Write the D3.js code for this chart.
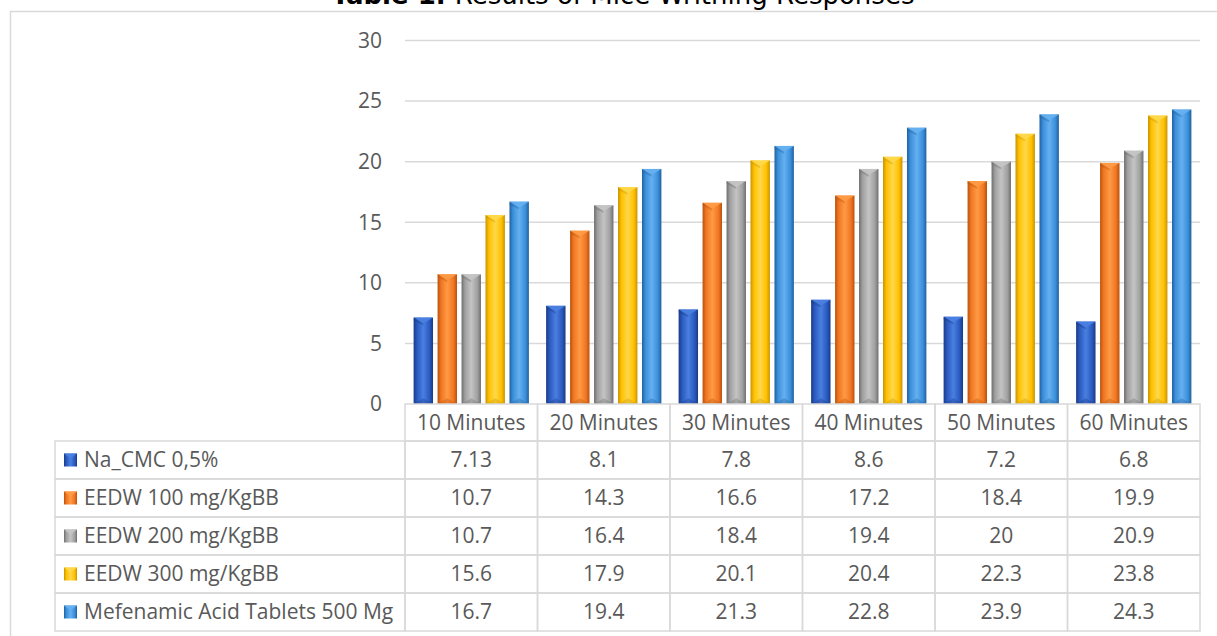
<!DOCTYPE html>
<html>
<head>
<meta charset="utf-8">
<script src="https://cdn.jsdelivr.net/npm/d3@7"></script>
<style>
  body { margin: 0; background: #fff; }
  svg { display: block; font-family: "Open Sans", sans-serif; }
</style>
</head>
<body>
<svg id="chart" width="1217" height="636"></svg>
<script>
const categories = ["10 Minutes", "20 Minutes", "30 Minutes", "40 Minutes", "50 Minutes", "60 Minutes"];
const seriesNames = ["Na_CMC 0,5%", "EEDW 100 mg/KgBB", "EEDW 200 mg/KgBB", "EEDW 300 mg/KgBB", "Mefenamic Acid Tablets 500 Mg"];
const naCmc = [7.13, 8.1, 7.8, 8.6, 7.2, 6.8];
const eedw100 = [10.7, 14.3, 16.6, 17.2, 18.4, 19.9];
const eedw200 = [10.7, 16.4, 18.4, 19.4, 20, 20.9];
const eedw300 = [15.6, 17.9, 20.1, 20.4, 22.3, 23.8];
const mefenamic = [16.7, 19.4, 21.3, 22.8, 23.9, 24.3];
const yTicks = [0, 5, 10, 15, 20, 25, 30];

const seriesValues = [naCmc, eedw100, eedw200, eedw300, mefenamic];
// base, light, dark
const colors = [
  ["#2a5ac0", "#4a7fe0", "#1a3a85"],
  ["#f07622", "#ff9a45", "#b8520c"],
  ["#a0a0a0", "#c4c4c4", "#6e6e6e"],
  ["#ffc000", "#ffd84a", "#c99400"],
  ["#3b8fdb", "#65b0f0", "#22609e"]
];

const svg = d3.select("#chart");
const plotLeft = 405, plotRight = 1200, plotTop = 40.5, plotBottom = 404;
const rowH = 38, headerH = 37, legendLeft = 55;
const grid = "#d9d9d9", textCol = "#595959";
const fs = 21;

// outer chart border
svg.append("rect").attr("x", 10.5).attr("y", 11.5).attr("width", 1220).attr("height", 640)
  .attr("fill", "none").attr("stroke", grid).attr("stroke-width", 1.5);

// title (clipped at top like the reference)
const title = svg.append("text").attr("x", 623).attr("y", 3.5).attr("text-anchor", "middle")
  .attr("font-family", "DejaVu Sans").attr("font-size", 26).attr("fill", "#000");
title.append("tspan").attr("font-weight", "bold").text("Table 1. ");
title.append("tspan").text("Results of Mice Writhing Responses");

const y = d3.scaleLinear().domain([0, 30]).range([plotBottom, plotTop]);
const x0 = d3.scaleBand().domain(categories).range([plotLeft, plotRight]).paddingInner(0.13).paddingOuter(0.065);
const x1 = d3.scaleBand().domain(seriesNames).range([0, x0.bandwidth()]).paddingInner(0.19);

// gridlines + y labels
svg.append("g").selectAll("line").data(yTicks.filter(d => d > 0)).join("line")
  .attr("x1", plotLeft).attr("x2", plotRight).attr("y1", d => y(d)).attr("y2", d => y(d))
  .attr("stroke", grid).attr("stroke-width", 1.5);
svg.append("g").selectAll("text").data(yTicks).join("text")
  .attr("x", 382).attr("y", d => y(d)).attr("dy", "0.35em").attr("text-anchor", "end")
  .attr("font-size", fs).attr("fill", textCol).text(d => d);

// gradients
const defs = svg.append("defs");
colors.forEach((c, i) => {
  const g = defs.append("linearGradient").attr("id", "g" + i).attr("x1", 0).attr("x2", 1).attr("y1", 0).attr("y2", 0);
  g.append("stop").attr("offset", "0%").attr("stop-color", c[2]);
  g.append("stop").attr("offset", "18%").attr("stop-color", c[0]);
  g.append("stop").attr("offset", "50%").attr("stop-color", c[1]);
  g.append("stop").attr("offset", "82%").attr("stop-color", c[0]);
  g.append("stop").attr("offset", "100%").attr("stop-color", c[2]);
});

// bars
const groups = svg.append("g").selectAll("g").data(categories).join("g")
  .attr("transform", d => `translate(${x0(d)},0)`);
groups.each(function(cat, ci) {
  const g = d3.select(this);
  seriesNames.forEach((s, si) => {
    const v = seriesValues[si][ci];
    const bx = x1(s), bw = x1.bandwidth(), by = y(v), bh = y(0) - y(v);
    const bev = bw * 0.3;
    g.append("rect").attr("x", bx).attr("y", by).attr("width", bw).attr("height", bh)
      .attr("fill", `url(#g${si})`);
    // top bevel (chevron)
    g.append("path")
      .attr("d", `M${bx},${by} L${bx + bw},${by} L${bx + bw / 2},${by + bev} Z`)
      .attr("fill", colors[si][1]).attr("opacity", 0.95);
    g.append("path")
      .attr("d", `M${bx},${by} L${bx + bw / 2},${by + bev} L${bx + bw / 2},${by + bev + 2} L${bx},${by + 3} Z`)
      .attr("fill", colors[si][2]).attr("opacity", 0.35);
    // bottom bevel
    g.append("path")
      .attr("d", `M${bx},${plotBottom} L${bx + bw},${plotBottom} L${bx + bw / 2},${plotBottom - bev} Z`)
      .attr("fill", colors[si][2]).attr("opacity", 0.35);
  });
});

// data table
const tbl = svg.append("g");
const colW = x0.step();
const rowsTop = plotBottom + headerH;
const lineAttr = sel => sel.attr("stroke", grid).attr("stroke-width", 1.5).attr("fill", "none");

// header row
categories.forEach((c, i) => {
  const cx = plotLeft + i * colW;
  tbl.append("rect").attr("x", cx).attr("y", plotBottom).attr("width", colW).attr("height", headerH).call(lineAttr);
  tbl.append("text").attr("x", cx + colW / 2).attr("y", plotBottom + headerH / 2).attr("dy", "0.35em")
    .attr("text-anchor", "middle").attr("font-size", fs).attr("fill", textCol).text(c);
});

seriesNames.forEach((s, si) => {
  const ry = rowsTop + si * rowH;
  tbl.append("rect").attr("x", legendLeft).attr("y", ry).attr("width", plotLeft - legendLeft).attr("height", rowH).call(lineAttr);
  tbl.append("rect").attr("x", 64).attr("y", ry + rowH / 2 - 6.5).attr("width", 13).attr("height", 13)
    .attr("fill", `url(#g${si})`);
  tbl.append("path").attr("d", `M64,${ry + rowH / 2 - 6.5} L77,${ry + rowH / 2 - 6.5} L70.5,${ry + rowH / 2 - 1.5} Z`)
    .attr("fill", colors[si][1]);
  tbl.append("text").attr("x", 84).attr("y", ry + rowH / 2).attr("dy", "0.35em")
    .attr("font-size", fs).attr("fill", textCol).text(s);
  categories.forEach((c, ci) => {
    const cx = plotLeft + ci * colW;
    tbl.append("rect").attr("x", cx).attr("y", ry).attr("width", colW).attr("height", rowH).call(lineAttr);
    tbl.append("text").attr("x", cx + colW / 2).attr("y", ry + rowH / 2).attr("dy", "0.35em")
      .attr("text-anchor", "middle").attr("font-size", fs).attr("fill", textCol).text(seriesValues[si][ci]);
  });
});
</script>
</body>
</html>
